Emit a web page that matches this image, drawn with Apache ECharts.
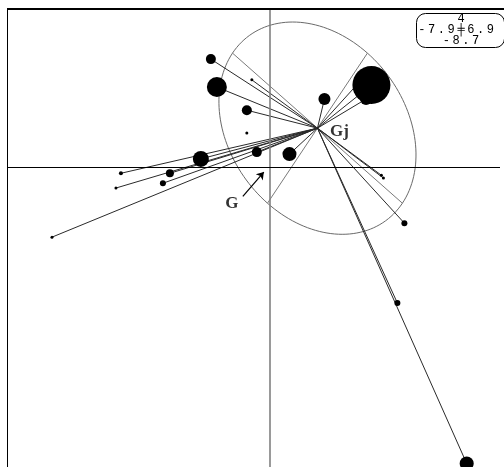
<!DOCTYPE html>
<html>
<head>
<meta charset="utf-8">
<script src="https://cdn.jsdelivr.net/npm/echarts@6/dist/echarts.min.js"></script>
<style>
  html, body { margin: 0; padding: 0; background: #fff; }
  #chart { width: 504px; height: 467px; }
</style>
</head>
<body>
<div id="chart"></div>
<script>
// Plot window (as printed in the range box)
const xRange = [-7.9, 6.9];
const yRange = [-8.7, 4];

// Class centroid Gj and its inertia ellipse (conjugate half-axes)
const centroid = [1.42, 0.99];
const ellipseAxisA = [-2.55, 1.88];
const ellipseAxisB = [1.50, 1.88];

// Individuals: coordinates, weight, and whether they belong to class j
const ptX = [-1.78, -1.60, -0.55, -0.70, -0.70, 1.63, 2.76, 3.04, 2.88, -2.08, -0.40, 0.58,
             -4.48, -3.01, -4.63, -3.22, -6.55, 3.34, 3.40, 4.03, 3.82, 5.90];
const ptY = [2.72, 2.02, 2.20, 1.44, 0.87, 1.72, 2.22, 2.07, 1.72, 0.22, 0.39, 0.34,
             -0.14, -0.14, -0.51, -0.39, -1.74, -0.19, -0.26, -1.39, -3.39, -7.41];
const ptWeight = [10, 20, 3, 10, 3, 12, 14, 38, 12, 16, 10, 14,
                  4, 8, 3, 6, 3, 3, 3, 6, 6, 14];
const ptInClass = [1, 1, 1, 1, 0, 1, 1, 1, 1, 1, 1, 1,
                   1, 1, 1, 1, 1, 1, 1, 1, 1, 1];

// Global centroid G annotation: label position and arrow
const gLabel = [-1.15, -0.89];
const gArrow = [[-0.82, -0.72], [-0.19, -0.11]];

const chart = echarts.init(document.getElementById('chart'), null, { renderer: 'canvas' });

const points = ptX.map((x, i) => [x, ptY[i], ptWeight[i]]);
const spokes = ptX
  .map((x, i) => ({ coords: [[x, ptY[i]], centroid], keep: ptInClass[i] }))
  .filter(d => d.keep)
  .map(d => ({ coords: d.coords }));

// ellipse outline: C + cos(t) A + sin(t) B
const ellipse = [];
for (let k = 0; k <= 160; k++) {
  const t = (k / 160) * Math.PI * 2;
  ellipse.push([
    centroid[0] + Math.cos(t) * ellipseAxisA[0] + Math.sin(t) * ellipseAxisB[0],
    centroid[1] + Math.cos(t) * ellipseAxisA[1] + Math.sin(t) * ellipseAxisB[1]
  ]);
}
const ellipseAxes = [
  { coords: [[centroid[0] + ellipseAxisA[0], centroid[1] + ellipseAxisA[1]],
             [centroid[0] - ellipseAxisA[0], centroid[1] - ellipseAxisA[1]]] },
  { coords: [[centroid[0] + ellipseAxisB[0], centroid[1] + ellipseAxisB[1]],
             [centroid[0] - ellipseAxisB[0], centroid[1] - ellipseAxisB[1]]] }
];

// range box text, one glyph per slot
const fmt = v => String(v);
const boxRows = [
  { y: 19, text: fmt(yRange[1]), cx: 461 },
  { y: 30, text: fmt(xRange[0]) + '\u256A' + fmt(xRange[1]), cx: 461 },
  { y: 41, text: fmt(yRange[0]), cx: 461 }
];
const boxGlyphs = [];
const step = 9.8;
boxRows.forEach(row => {
  const chars = Array.from(row.text);
  let startC;
  if (chars.includes('\u256A')) {
    const idx = chars.indexOf('\u256A');
    startC = row.cx - idx * step;
  } else {
    startC = row.cx - (chars.length - 1) * step / 2;
  }
  chars.forEach((ch, j) => {
    boxGlyphs.push({
      type: 'text', z: 20,
      style: {
        text: ch, x: startC + j * step, y: row.y,
        align: 'center', verticalAlign: 'middle',
        font: '12px "Liberation Mono", "DejaVu Sans Mono", monospace',
        fill: '#000'
      }
    });
  });
});

const option = {
  animation: false,
  backgroundColor: '#fff',
  grid: { left: 7, top: 8, width: 493, height: 507, containLabel: false, outerBoundsMode: 'none' },
  xAxis: {
    type: 'value', min: xRange[0], max: xRange[1],
    axisLine: { show: false }, axisTick: { show: false },
    axisLabel: { show: false }, splitLine: { show: false }
  },
  yAxis: {
    type: 'value', min: yRange[0], max: yRange[1],
    axisLine: { show: false }, axisTick: { show: false },
    axisLabel: { show: false }, splitLine: { show: false }
  },
  series: [
    {
      type: 'line', data: ellipse, showSymbol: false, symbol: 'none',
      lineStyle: { color: '#6a6a6a', width: 1 }, z: 2, silent: true,
      markLine: {
        silent: true, symbol: ['none', 'none'], label: { show: false },
        data: [
          { xAxis: 0, lineStyle: { color: '#808080', width: 1.6, type: 'solid' } },
          { yAxis: 0, lineStyle: { color: '#000', width: 1, type: 'solid' } }
        ]
      }
    },
    {
      type: 'lines', coordinateSystem: 'cartesian2d', data: ellipseAxes,
      lineStyle: { color: '#7a7a7a', width: 1, opacity: 1 }, z: 3, silent: true
    },
    {
      type: 'lines', coordinateSystem: 'cartesian2d', data: spokes,
      lineStyle: { color: '#2a2a2a', width: 1, opacity: 1 }, z: 4, silent: true
    },
    {
      type: 'scatter', data: points,
      symbolSize: d => d[2],
      itemStyle: { color: '#000', opacity: 1 }, z: 5, silent: true
    },
    {
      type: 'scatter', data: [centroid], symbolSize: 1,
      itemStyle: { color: '#000' }, z: 6, silent: true,
      label: {
        show: true, formatter: 'Gj', position: 'right', distance: 12, offset: [0, 3],
        fontFamily: '"Liberation Serif", "DejaVu Serif", serif',
        fontWeight: 'bold', fontSize: 17, color: '#000'
      }
    },
    {
      type: 'lines', coordinateSystem: 'cartesian2d', data: [{ coords: gArrow }],
      symbol: ['none', 'arrow'], symbolSize: 7,
      lineStyle: { color: '#000', width: 1.2, opacity: 1 }, z: 6, silent: true
    },
    {
      type: 'scatter', data: [gLabel], symbolSize: 0, z: 6, silent: true,
      label: {
        show: true, formatter: 'G', position: 'inside',
        fontFamily: '"Liberation Serif", "DejaVu Serif", serif',
        fontWeight: 'bold', fontSize: 17, color: '#000'
      }
    }
  ],
  graphic: [
    { type: 'line', z: 20, shape: { x1: 7, y1: 9, x2: 504, y2: 9 }, style: { stroke: '#000', lineWidth: 2 } },
    { type: 'line', z: 20, shape: { x1: 7.5, y1: 8, x2: 7.5, y2: 467 }, style: { stroke: '#000', lineWidth: 1 } },
    { type: 'rect', z: 19, shape: { x: 416.5, y: 13.5, width: 88, height: 34, r: 9 },
      style: { fill: '#fff', stroke: '#000', lineWidth: 1 } }
  ].concat(boxGlyphs)
};

chart.setOption(option);
</script>
</body>
</html>
